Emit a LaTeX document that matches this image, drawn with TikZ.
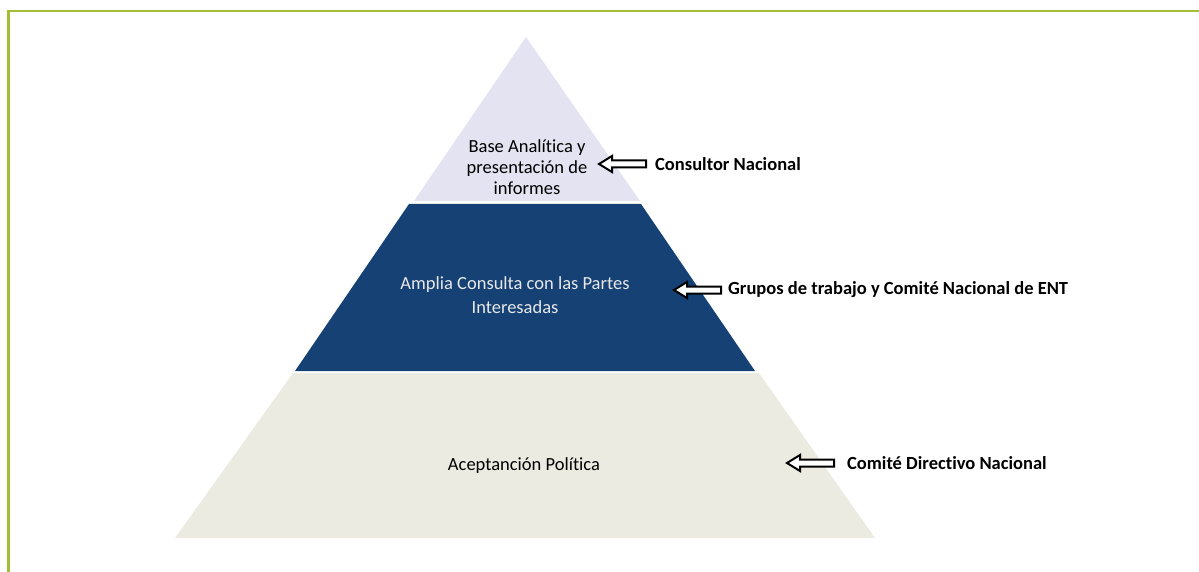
\documentclass[tikz,border=0pt]{standalone}
\usepackage{fontspec}
\setmainfont{Carlito}[Ligatures=NoCommon]
\definecolor{framegreen}{HTML}{A3BE35}
\definecolor{toplav}{HTML}{E4E3F1}
\definecolor{midnavy}{HTML}{154174}
\definecolor{basebeige}{HTML}{ECEBE1}
\definecolor{midtext}{HTML}{E8E8E8}
\tikzset{
  frameline/.style={draw=framegreen, line width=2.6pt},
  layertext/.style={align=center, inner sep=0pt, font=\fontsize{18.5}{21}\selectfont},
  sidelabel/.style={anchor=west, inner sep=0pt, font=\fontsize{18.5}{21}\selectfont\bfseries},
  arrowline/.style={draw=black, fill=white, line width=2pt, line join=miter},
  blockarrow/.pic={\path[arrowline] (0,0) -- (13,8) -- (13,3.5) -- (47,3.5) -- (47,-3.5) -- (13,-3.5) -- (13,-8) -- cycle;}
}
\begin{document}
\begin{tikzpicture}[x=1pt,y=-1pt]
\useasboundingbox (0,0) rectangle (1199,572);
% frame
\draw[frameline] (8.5,572) -- (8.5,11) -- (1199,11);
% pyramid layers
\fill[toplav] (526,37) -- (640,201) -- (414,201) -- cycle;
\fill[midnavy] (409,204) -- (641,204) -- (755,371) -- (295,371) -- cycle;
\fill[basebeige] (293,373) -- (759,373) -- (875,538) -- (175,538) -- cycle;
% layer texts
\node[layertext] (top) at (527,167) {Base Analítica y\\presentación de\\informes};
\node[layertext, text=midtext, font=\fontsize{18.5}{24}\selectfont] (mid) at (515,295) {Amplia Consulta con las Partes\\Interesadas};
\node[layertext] (base) at (524,466) {Aceptanción Política};
% arrows and labels
\pic at (599,164) {blockarrow};
\node[sidelabel] (l1) at (655,164) {Consultor Nacional};
\pic at (674,290) {blockarrow};
\node[sidelabel] (l2) at (728,290) {Grupos de trabajo y Comité Nacional de ENT};
\pic at (787,463) {blockarrow};
\node[sidelabel] (l3) at (847,463) {Comité Directivo Nacional};
\end{tikzpicture}
\end{document}
